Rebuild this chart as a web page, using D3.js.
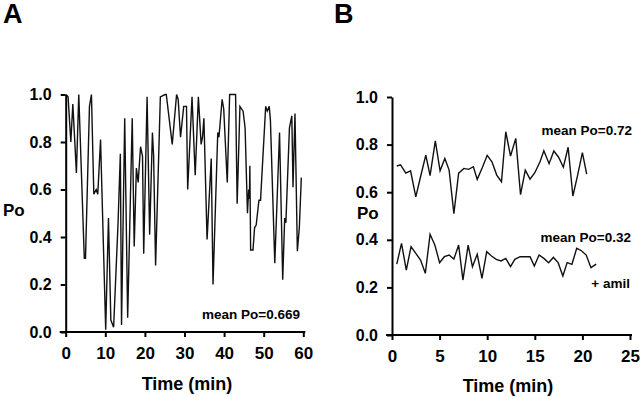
<!DOCTYPE html>
<html>
<head>
<meta charset="utf-8">
<script src="https://cdn.jsdelivr.net/npm/d3@7"></script>
<style>
  body { margin: 0; background: #fff; }
  svg { display: block; font-family: "Liberation Sans", Arial, sans-serif; font-weight: bold; }
</style>
</head>
<body>
<div id="chart"></div>
<script>
// Panel A: single channel record, 0-60 min
let timeA = [0.1, 0.6, 1.3, 1.8, 2.7, 3.3, 4.7, 5.0, 6.0, 6.5, 7.1, 7.7, 8.1, 8.8, 10.1, 10.8, 11.4, 12.1, 13.2, 13.8,
  14.1, 14.9, 15.65, 16.8, 17.3, 17.85, 18.3, 18.9, 19.4, 19.7, 20.55, 21.2, 21.9, 22.2, 22.7, 23.9, 25.1, 25.4, 26.9, 28.0,
  28.4, 29.0, 29.8, 30.5, 30.8, 31.9, 32.7, 33.5, 34.2, 34.55, 34.9, 35.7, 36.75, 37.2, 38.4, 38.7, 39.5, 39.9, 40.8, 41.4,
  42.9, 43.3, 44.0, 44.8, 45.3, 45.9, 46.2, 46.4, 46.5, 46.7, 47.3, 47.7, 48.1, 48.8, 49.2, 50.5, 50.9, 51.4, 51.7, 52.8,
  54.0, 54.8, 55.3, 55.6, 56.5, 57.1, 57.4, 57.9, 58.5, 59.0, 59.5];
let poA = [1.0, 0.99, 0.80, 0.96, 0.67, 1.0, 0.31, 0.31, 0.95, 1.0, 0.58, 0.60, 0.58, 0.81, 0.01, 0.48, 0.05, 0.02, 0.45, 0.75,
  0.03, 0.90, 0.06, 0.90, 0.36, 0.69, 0.63, 0.78, 0.74, 0.33, 0.99, 0.41, 0.84, 0.74, 0.28, 0.99, 1.0, 1.0, 0.79, 1.0,
  0.98, 0.82, 0.95, 0.95, 0.60, 0.99, 0.66, 0.99, 0.79, 0.82, 0.90, 0.39, 0.73, 0.20, 0.84, 0.82, 0.98, 0.94, 0.63, 1.0,
  1.0, 0.54, 0.95, 0.93, 0.86, 0.50, 0.60, 0.56, 0.70, 0.345, 0.345, 0.44, 0.45, 0.555, 0.555, 0.95, 0.93, 0.95, 0.89, 0.29,
  0.84, 0.22, 0.48, 0.46, 0.86, 0.91, 0.61, 0.92, 0.34, 0.44, 0.65];

// Panel B: control and + amiloride
let timeB1 = [0.5, 0.9, 1.45, 1.95, 2.5, 3.0, 3.55, 4.0, 4.55, 5.05, 5.55, 6.0, 6.5, 7.0, 7.55, 8.05, 8.55, 8.95, 9.5, 10.0,
  10.5, 11.0, 11.5, 11.95, 12.45, 13.0, 13.5, 14.0, 14.5, 15.0, 15.55, 15.95, 16.5, 17.0, 17.5, 18.0, 18.5, 19.0, 19.5, 20.0, 20.45];
let poB1 = [0.71, 0.715, 0.68, 0.69, 0.58, 0.665, 0.756, 0.67, 0.816, 0.69, 0.742, 0.693, 0.51, 0.68, 0.70, 0.696, 0.707, 0.654, 0.705, 0.755,
  0.728, 0.672, 0.644, 0.854, 0.752, 0.826, 0.59, 0.693, 0.655, 0.682, 0.728, 0.774, 0.72, 0.773, 0.747, 0.705, 0.789, 0.584, 0.672, 0.766, 0.676];
let timeB2 = [0.5, 1.0, 1.5, 2.0, 2.5, 3.0, 3.5, 4.0, 4.5, 5.0, 5.5, 6.0, 6.5, 7.0, 7.45, 8.0, 8.45, 8.95, 9.45, 9.95,
  10.45, 10.95, 11.45, 11.95, 12.45, 12.9, 13.45, 13.95, 14.5, 14.95, 15.45, 15.95, 16.45, 16.95, 17.45, 17.95, 18.4, 18.9, 19.4, 19.9,
  20.4, 20.9, 21.45];
let poB2 = [0.298, 0.385, 0.273, 0.371, 0.343, 0.315, 0.259, 0.423, 0.378, 0.304, 0.329, 0.336, 0.319, 0.378, 0.231, 0.378, 0.287, 0.339, 0.238, 0.35,
  0.332, 0.318, 0.311, 0.322, 0.287, 0.318, 0.329, 0.329, 0.329, 0.29, 0.336, 0.322, 0.304, 0.326, 0.304, 0.248, 0.304, 0.297, 0.364, 0.354,
  0.336, 0.283, 0.298];

let yTicks = [0, 0.2, 0.4, 0.6, 0.8, 1.0];
let xTicksA = [0, 10, 20, 30, 40, 50, 60];
let xTicksB = [0, 5, 10, 15, 20, 25];

let svg = d3.select("#chart").append("svg")
    .attr("width", 640)
    .attr("height", 397);

function drawPanel(xScale, yScale, xTicks, series) {
    let g = svg.append("g");

    series.forEach(s => {
        let pts = s.t.map((t, i) => [t, s.po[i]]);
        g.append("path")
            .datum(pts)
            .attr("fill", "none")
            .attr("stroke", "#111")
            .attr("stroke-width", 1.4)
            .attr("stroke-linejoin", "miter")
            .attr("d", d3.line().x(d => xScale(d[0])).y(d => yScale(d[1])));
    });

    let xAxis = g.append("g")
        .attr("transform", "translate(0," + yScale(0) + ")")
        .call(d3.axisBottom(xScale).tickValues(xTicks).tickFormat(d3.format("d")).tickSize(5).tickSizeOuter(0).tickPadding(10));
    xAxis.select(".domain").attr("d", "M" + (xScale.range()[0] - 6) + ",0H" + (xScale.range()[1] + 2));

    let yAxis = g.append("g")
        .attr("transform", "translate(" + xScale(0) + ",0)")
        .call(d3.axisLeft(yScale).tickValues(yTicks).tickFormat(d3.format(".1f")).tickSize(5).tickSizeOuter(0).tickPadding(9));

    g.selectAll(".domain, .tick line").attr("stroke", "#000").attr("stroke-width", 2);
    xAxis.selectAll("text").style("font-size", "17px").style("font-weight", "bold").attr("fill", "#000");
    yAxis.selectAll("text").style("font-size", "16px").style("font-weight", "bold").attr("fill", "#000");
    return g;
}

// Panel A
let xA = d3.scaleLinear().domain([0, 60]).range([65.7, 303.3]);
let yA = d3.scaleLinear().domain([0, 1]).range([332, 94.5]);
drawPanel(xA, yA, xTicksA, [{t: timeA, po: poA}]);

// Panel B
let xB = d3.scaleLinear().domain([0, 25]).range([392, 630]);
let yB = d3.scaleLinear().domain([0, 1]).range([335, 97]);
drawPanel(xB, yB, xTicksB, [{t: timeB1, po: poB1}, {t: timeB2, po: poB2}]);

// labels
function label(x, y, text, size, anchor) {
    svg.append("text")
        .attr("x", x)
        .attr("y", y)
        .attr("text-anchor", anchor || "start")
        .style("font-size", size + "px")
        .style("font-weight", "bold")
        .attr("fill", "#000")
        .text(text);
}

label(3, 23, "A", 27);
label(334, 23, "B", 27);
label(3, 216, "Po", 17);
label(357, 219, "Po", 17);
label(187, 390, "Time (min)", 18, "middle");
label(508, 392, "Time (min)", 18, "middle");
label(300, 319, "mean Po=0.669", 13.5, "end");
label(632, 135, "mean Po=0.72", 13.5, "end");
label(631, 242, "mean Po=0.32", 13.5, "end");
label(630, 288, "+ amil", 13.5, "end");
</script>
</body>
</html>
